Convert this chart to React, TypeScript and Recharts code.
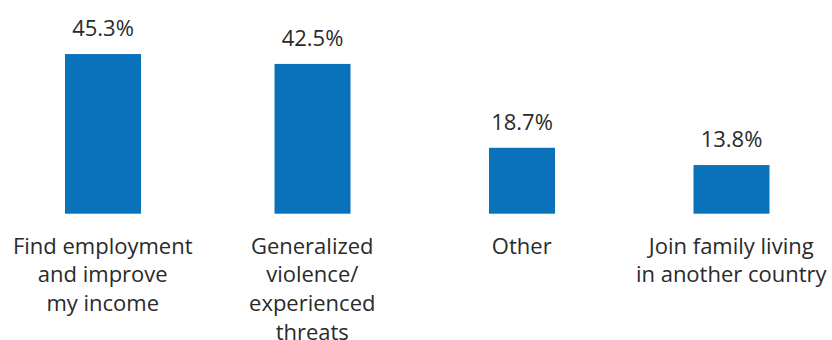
import { BarChart, Bar, XAxis, YAxis, LabelList } from 'recharts'

// Reasons for leaving (share of respondents, %)
const categories = [
  'Find employment\nand improve\nmy income',
  'Generalized\nviolence/\nexperienced\nthreats',
  'Other',
  'Join family living\nin another country',
]
const shares = [45.3, 42.5, 18.7, 13.8]

const data = categories.map((name, i) => ({ name, value: shares[i] }))

const BLUE = '#0a72ba'
const TEXT = '#2a2a2a'
const FONT = '"Open Sans", sans-serif'

const CategoryTick = ({ x, y, payload }: any) => {
  const lines = String(payload.value).split('\n')
  return (
    <text x={x} y={y + 32} textAnchor="middle" fill={TEXT} fontSize={22} fontFamily={FONT}>
      {lines.map((line, i) => (
        <tspan key={i} x={x} dy={i === 0 ? 0 : 28.7}>
          {line}
        </tspan>
      ))}
    </text>
  )
}

// the "Other" bar is drawn a little narrower in the original
const BarShape = (props: any) => {
  const { x, y, width, height, index } = props
  const shrink = index === 2 ? 10 : 0
  return <rect x={x + shrink / 2} y={y} width={width - shrink} height={height} fill={BLUE} />
}

const ValueLabel = (props: any) => {
  const { x, y, width, value } = props
  return (
    <text x={x + width / 2} y={y - 18} textAnchor="middle" fill={TEXT} fontSize={22} fontFamily={FONT}>
      {`${value}%`}
    </text>
  )
}

export default function App() {
  return (
    <div style={{ position: 'absolute', left: -2, top: 0, background: '#fff' }}>
      <BarChart
        width={838}
        height={340}
        data={data}
        margin={{ top: 37.5, right: 0, bottom: 0, left: 0 }}
      >
        <XAxis
          dataKey="name"
          axisLine={false}
          tickLine={false}
          interval={0}
          height={126.3}
          tick={<CategoryTick />}
        />
        <YAxis hide domain={[0, 50]} />
        <Bar dataKey="value" barSize={76} shape={<BarShape />} isAnimationActive={false}>
          <LabelList dataKey="value" content={<ValueLabel />} />
        </Bar>
      </BarChart>
    </div>
  )
}
